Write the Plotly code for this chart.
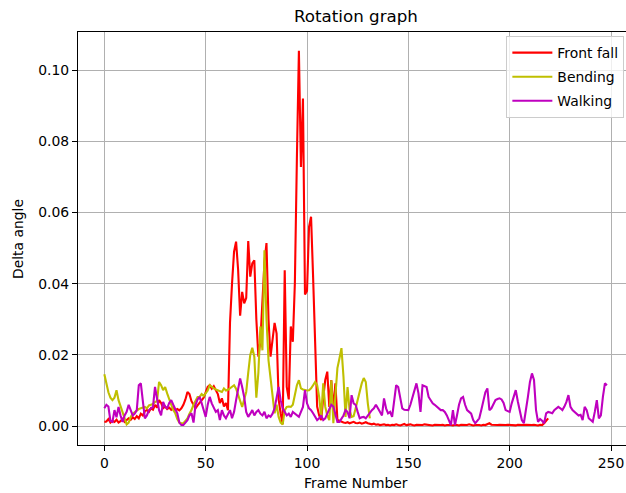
import plotly.graph_objects as go

front_fall = [
    .0012, .0013, .0020, .0010, .0015, .0012, .0018, .0010, .0014, .0020,
    .0012, .0016, .0022, .0018, .0025, .0020, .0028, .0022, .0035, .0030,
    .0042, .0045, .0040, .0050, .0046, .0060, .0052, .0073, .0065, .0050,
    .0055, .0048, .0052, .0046, .0050, .0045, .0048, .0044, .0050, .0060,
    .0075, .0096, .0090, .0070, .0060, .0050, .0058, .0065, .0070, .0080,
    .0095, .0110, .0115, .0105, .0112, .0100, .0090, .0065, .0078, .0055,
    .0065, .0045,
    .0290, .0400, .0490, .0518, .0440, .0310, .0377, .0345, .0360, .0520,
    .0420, .0457, .0466, .0300, .0195, .0240, .0350, .0460, .0514, .0300,
    .0195, .0250, .0290, .0260, .0075, .0035, .0005, .0438, .0110, .0075,
    .0280, .0237, .0400, .0750, .1054, .0728, .0920, .0370, .0380, .0560,
    .0588, .0420, .0250, .0055, .0030, .0017, .0080, .0130, .0153, .0054,
    .0129, .0045, .0120, .0017, .0015, .0012,
    .0010, .0009, .0011, .0008, .0010, .0012, .0009, .0008, .0010, .0007,
    .0009, .0011, .0008,
    .0006, .0005, .0007, .0004, .0005, .0003, .0004, .0005, .0003, .0004,
    .0002, .0004, .0003, .0005, .0003, .0002, .0004, .0006, .0003, .0004,
    .0005, .0003, .0002, .0004, .0003, .0002, .0003, .0005, .0004, .0002,
    .0003, .0002, .0004, .0003, .0002, .0003, .0004, .0002, .0003, .0004,
    .0003, .0002, .0004, .0003, .0002, .0004, .0003, .0002, .0003, .0005,
    .0003, .0002, .0003, .0004, .0003, .0002, .0004, .0003, .0005, .0008,
    .0004, .0003, .0002, .0003, .0004, .0003, .0002, .0003, .0004, .0003,
    .0002, .0003, .0002, .0004, .0003, .0002, .0003, .0004, .0003, .0002,
    .0003, .0004, .0003, .0002, .0004, .0003, .0008, .0014, .0022,
]

bending = [
    .0146, .0115, .0095, .0080, .0073, .0080, .0101, .0073, .0055, .0035,
    .0017, .0005, .0010, .0026, .0035, .0040, .0045, .0048, .0050, .0052,
    .0054, .0050, .0058, .0060, .0062, .0068, .0070, .0124, .0115, .0101,
    .0110, .0092, .0073, .0060, .0045, .0036, .0020, .0010, .0008, .0008,
    .0015, .0022, .0035, .0045, .0060, .0073, .0082, .0082, .0090, .0085,
    .0092, .0100, .0115, .0110, .0106, .0103, .0101, .0098, .0096, .0106,
    .0100, .0102, .0106, .0110, .0115, .0105, .0087, .0070, .0054, .0075,
    .0096, .0150, .0200, .0220, .0195, .0080, .0150, .0280, .0213, .0494,
    .0300, .0185, .0129, .0073, .0036, .0060, .0026, .0010, .0005, .0045,
    .0054, .0055, .0054, .0060, .0085, .0115, .0129, .0106, .0103, .0101,
    .0100, .0101, .0106, .0115, .0124, .0115, .0082, .0026, .0120, .0054,
    .0030, .0017, .0129, .0008, .0092, .0163, .0190, .0219, .0138, .0026,
    .0110, .0045, .0026, .0028, .0050, .0073, .0100, .0120, .0135, .0124,
    .0064, .0022,
]

walking = [
    .0050, .0060, .0055, .0015, .0012, .0045, .0025, .0054, .0030, .0012,
    .0030, .0040, .0060, .0045, .0030, .0035, .0045, .0115, .0120, .0070,
    .0022, .0030, .0045, .0050, .0054, .0110, .0080, .0045, .0030, .0068,
    .0055, .0050, .0065, .0073, .0060, .0050, .0036, .0010, .0003, .0003,
    .0010, .0017, .0030, .0036, .0010, .0060, .0075, .0082, .0065, .0045,
    .0026, .0060, .0082, .0064, .0050, .0040, .0045, .0017, .0045, .0030,
    .0022, .0035, .0045, .0022, .0040, .0073, .0110, .0134, .0110, .0082,
    .0040, .0026, .0035, .0045, .0030, .0040, .0045, .0035, .0030, .0040,
    .0022, .0030, .0026, .0035, .0050, .0080, .0110, .0073, .0050, .0040,
    .0030, .0035, .0026, .0040, .0035, .0030, .0026, .0040, .0054, .0101,
    .0064, .0050, .0045, .0036, .0026, .0017, .0022, .0030, .0017, .0022,
    .0035, .0050, .0060, .0055, .0030, .0012, .0012, .0020, .0030, .0045,
    .0040, .0022, .0087, .0064, .0060, .0040, .0022, .0025, .0026, .0022,
    .0030, .0036, .0045, .0050, .0060, .0050, .0040, .0030, .0078, .0050,
    .0036, .0040, .0026, .0070, .0115, .0110, .0082, .0050, .0046, .0045,
    .0045, .0060, .0082, .0100, .0120, .0092, .0040, .0115, .0112, .0110,
    .0082, .0072, .0064, .0060, .0054, .0050, .0045, .0045, .0040, .0030,
    .0015, .0003, .0045, .0003, .0030, .0060, .0078, .0082, .0060, .0045,
    .0040, .0035, .0017, .0008, .0015, .0022, .0045, .0075, .0095, .0106,
    .0045, .0050, .0060, .0073, .0076, .0078, .0075, .0065, .0045, .0042,
    .0040, .0064, .0085, .0101, .0070, .0045, .0017, .0008, .0040, .0082,
    .0124, .0148, .0130, .0045, .0012, .0020, .0015, .0008, .0036, .0040,
    .0038, .0036, .0045, .0050, .0054, .0050, .0045, .0055, .0068, .0087,
    .0054, .0045, .0040, .0035, .0030, .0032, .0017, .0054, .0045, .0022,
    .0018, .0012, .0040, .0073, .0022, .0030, .0082, .0120, .0115,
]

series_names = ["Front fall", "Bending", "Walking"]
series_colors = ["#ff0000", "#bfbf00", "#bf00bf"]
x_ticks = [0, 50, 100, 150, 200, 250]
y_ticks = [0.00, 0.02, 0.04, 0.06, 0.08, 0.10]

fig = go.Figure()
for name, color, vals in zip(series_names, series_colors, [front_fall, bending, walking]):
    fig.add_trace(go.Scatter(
        x=list(range(len(vals))), y=vals, mode="lines", name=name,
        legendgroup=name,
        line=dict(color=color, width=2.1),
    ))

FONT = "DejaVu Sans"
axis_common = dict(
    showgrid=True, gridcolor="#b0b0b0", gridwidth=1.1,
    zeroline=False, showline=True, linecolor="black", linewidth=1.1,
    ticks="outside", ticklen=5, tickwidth=1.1, tickcolor="black",
    tickfont=dict(family=FONT, size=13.9, color="black"),
)

fig.update_layout(
    width=626, height=493,
    margin=dict(l=78, r=0, t=32, b=48),
    paper_bgcolor="white", plot_bgcolor="white",
    font=dict(family=FONT, color="black"),
    xaxis=dict(range=[-13.0, 257.4], tickvals=x_ticks, mirror=True, **axis_common),
    yaxis=dict(range=[-0.0053, 0.1107], tickvals=y_ticks, tickformat=".2f", mirror=False, **axis_common),
    showlegend=True,
    legend=dict(
        x=0.997, y=0.99, xanchor="right", yanchor="top",
        bgcolor="rgba(255,255,255,0.8)", bordercolor="#cccccc", borderwidth=1,
        font=dict(family=FONT, size=13.9, color="black"),
        itemwidth=40, tracegroupgap=3,
    ),
    annotations=[
        dict(text="Rotation graph", xref="paper", yref="paper", x=(356 - 78) / 548, y=1,
             yshift=16, xanchor="center", yanchor="middle", showarrow=False,
             font=dict(family=FONT, size=16.7, color="black")),
        dict(text="Frame Number", xref="paper", yref="paper", x=(356 - 78) / 548, y=0,
             yshift=-38, xanchor="center", yanchor="middle", showarrow=False,
             font=dict(family=FONT, size=13.9, color="black")),
        dict(text="Delta angle", xref="paper", yref="paper", x=0, y=(445 - 239) / 413,
             xshift=-60, xanchor="center", yanchor="middle", showarrow=False, textangle=-90,
             font=dict(family=FONT, size=13.9, color="black")),
    ],
)

fig.write_html(
    "out.html",
    config={"displayModeBar": False},
    post_script="document.body.style.margin='0px';document.body.style.padding='0px';document.body.style.overflow='hidden';",
)
